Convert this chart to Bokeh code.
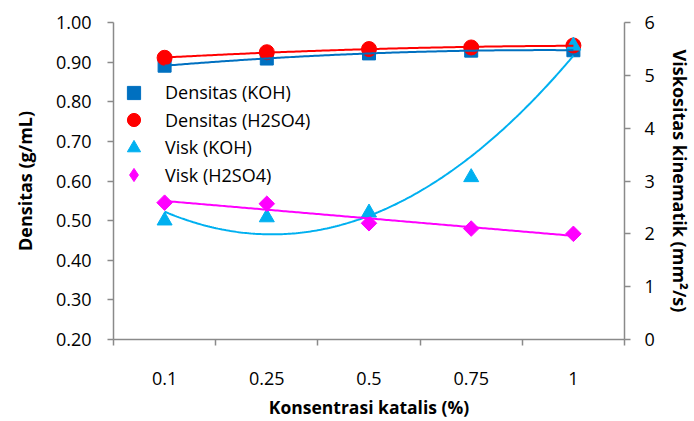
import numpy as np
from bokeh.plotting import figure
from bokeh.models import (Range1d, LinearAxis, FixedTicker, Legend, LegendItem,
                          NumeralTickFormatter)
from bokeh.embed import file_html
from bokeh.resources import INLINE

# ---- data ----
categories = ["0.1", "0.25", "0.5", "0.75", "1"]
dens_koh = [0.891, 0.909, 0.922, 0.929, 0.930]
dens_h2so4 = [0.911, 0.925, 0.933, 0.937, 0.942]
visk_koh = [2.25, 2.31, 2.40, 3.07, 5.56]
visk_h2so4 = [2.59, 2.57, 2.20, 2.10, 2.00]
left_ticks = [0.2, 0.3, 0.4, 0.5, 0.6, 0.7, 0.8, 0.9, 1.0]
right_ticks = [0, 1, 2, 3, 4, 5, 6]
series_labels = ["Densitas (KOH)", "Densitas (H2SO4)", "Visk (KOH)", "Visk (H2SO4)"]

FONT = "Open Sans"
AXIS_COLOR = "#8a8a8a"
TEXT_COLOR = "#000000"

x = np.arange(1, len(categories) + 1)
xs = np.linspace(1, len(categories), 200)

def trend(vals, deg):
    c = np.polyfit(x, vals, deg)
    return np.polyval(c, xs)

p = figure(width=694, height=421, output_backend="svg", toolbar_location=None,
           x_range=Range1d(0.5, len(categories) + 0.5), y_range=Range1d(0.2, 1.0),
           min_border_left=113, min_border_right=68, min_border_top=22,
           min_border_bottom=82, outline_line_color=None)
p.xgrid.visible = False
p.ygrid.visible = False
p.extra_y_ranges = {"visk": Range1d(0, 6)}

# x axis
xa = p.xaxis[0]
xa.ticker = FixedTicker(ticks=list(x), minor_ticks=list(np.arange(0.5, len(categories) + 1, 1.0)))
xa.major_label_overrides = {int(i): c for i, c in zip(x, categories)}
xa.major_tick_line_color = None
xa.minor_tick_line_color = AXIS_COLOR
xa.minor_tick_out = 6
xa.minor_tick_in = 0
xa.minor_tick_line_width = 1.5
xa.major_label_standoff = 26
xa.axis_label = "Konsentrasi katalis (%)"
xa.axis_label_standoff = 7

# left axis
ya = p.yaxis[0]
ya.ticker = FixedTicker(ticks=left_ticks)
ya.formatter = NumeralTickFormatter(format="0.00")
ya.minor_tick_line_color = None
ya.major_tick_out = 6
ya.major_tick_in = 0
ya.axis_label = "Densitas (g/mL)"
ya.major_label_standoff = 16
ya.axis_label_standoff = 16

# right axis
ra = LinearAxis(y_range_name="visk", ticker=FixedTicker(ticks=right_ticks))
ra.minor_tick_line_color = None
ra.major_tick_out = 6
ra.major_tick_in = 0
ra.axis_label = "Viskositas kinematik (mm²/s)"
ra.major_label_standoff = 14
ra.axis_label_standoff = 10
p.add_layout(ra, "right")

for ax in [xa, ya, ra]:
    ax.axis_line_color = AXIS_COLOR
    ax.axis_line_width = 1.5
    ax.major_tick_line_width = 1.5
    if ax is not xa:
        ax.major_tick_line_color = AXIS_COLOR
    ax.major_label_text_font = FONT
    ax.major_label_text_font_size = "18px"
    ax.major_label_text_color = TEXT_COLOR
    ax.axis_label_text_font = FONT
    ax.axis_label_text_font_style = "bold"
    ax.axis_label_text_font_size = "18px"
    ax.axis_label_text_color = TEXT_COLOR
xa.axis_label_text_font_size = "17.5px"

# markers
r1 = p.scatter(x, dens_koh, marker="square", size=13, fill_color="#0070C0", line_color="#0070C0")
r2 = p.scatter(x, dens_h2so4, marker="circle", size=15, fill_color="#FF0000", line_color="#FF0000")
r3 = p.scatter(x, visk_koh, marker="triangle", size=15, fill_color="#00B0F0", line_color="#00B0F0",
               y_range_name="visk")
# diamond glyph (used for the legend symbol), covered by the rotated squares below
r4_leg = p.scatter(x, visk_h2so4, marker="diamond", size=12, fill_color="#FF00FF",
                   line_color="#FF00FF", y_range_name="visk")
r4 = p.scatter(x, visk_h2so4, marker="square", angle=np.pi / 4, size=11, fill_color="#FF00FF",
               line_color="#FF00FF", y_range_name="visk")

# trendlines
p.line(xs, trend(dens_koh, 2), line_color="#0070C0", line_width=2)
p.line(xs, trend(dens_h2so4, 2), line_color="#FF0000", line_width=2)
p.line(xs, trend(visk_koh, 2), line_color="#00B0F0", line_width=2, y_range_name="visk")
p.line(xs, trend(visk_h2so4, 1), line_color="#FF00FF", line_width=2, y_range_name="visk")

# legend: one single-item legend per row, rows 27.5 px apart
GH = 33
first_center = 92 - 22          # from frame top
row_step = 27.5
frame_h = 339 - 22
for i, (lab, rend) in enumerate(zip(series_labels, [r1, r2, r3, r4_leg])):
    center = first_center + i * row_step
    bottom = frame_h - (center + GH / 2)
    lg = Legend(items=[LegendItem(label=lab, renderers=[rend])], location=(4, bottom))
    lg.border_line_color = None
    lg.background_fill_alpha = 0
    lg.padding = 0
    lg.margin = 0
    lg.glyph_width = GH
    lg.glyph_height = GH
    lg.label_height = GH
    lg.label_standoff = 15
    lg.label_text_font = FONT
    lg.label_text_font_size = "18px"
    lg.label_text_color = TEXT_COLOR
    p.add_layout(lg, "center")

open("out.html", "w").write(file_html(p, INLINE))
